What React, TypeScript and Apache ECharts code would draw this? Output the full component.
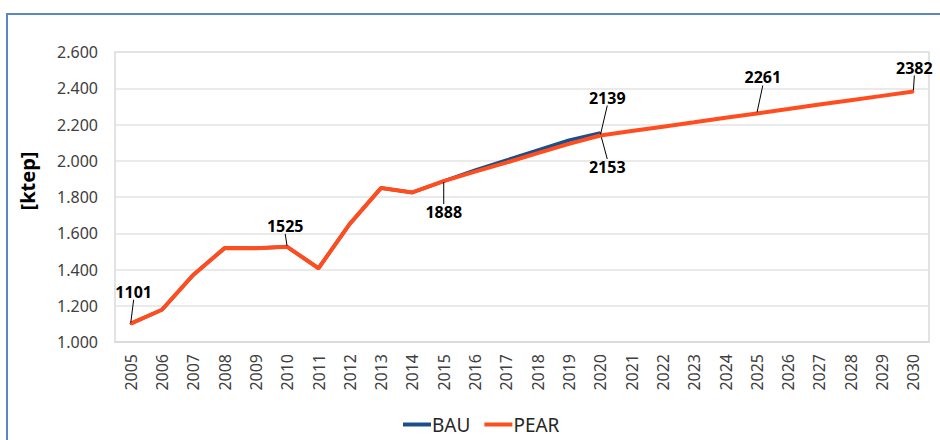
import React, { useEffect, useRef } from "react";
import * as echarts from "echarts";

const years = [
  "2005", "2006", "2007", "2008", "2009", "2010", "2011", "2012", "2013",
  "2014", "2015", "2016", "2017", "2018", "2019", "2020", "2021", "2022",
  "2023", "2024", "2025", "2026", "2027", "2028", "2029", "2030",
];

const bauValues: (number | null)[] = [
  1101, 1178, 1370, 1518, 1517, 1525, 1407, 1652, 1850, 1825, 1888,
  1948, 2003, 2058, 2113, 2153,
  null, null, null, null, null, null, null, null, null, null,
];

const pearValues: number[] = [
  1101, 1178, 1370, 1518, 1517, 1525, 1407, 1652, 1850, 1825, 1888,
  1940, 1990, 2042, 2093, 2139, 2164, 2188, 2212, 2237, 2261, 2285,
  2310, 2334, 2358, 2382,
];

const bauLabelIdx = [15];
const pearLabelIdx = [0, 5, 10, 15, 20, 25];

const yTicks = { min: 1000, max: 2600, interval: 200 };

const FONT = "Noto Sans";

// label offsets (style): seriesIndex-dataIndex -> [dx, dy] from point
const labelOffsets: Record<string, [number, number]> = {
  "1-0": [3, -32],
  "1-5": [-2, -21],
  "1-10": [0, 31],
  "1-15": [7, -38],
  "0-15": [7, 34],
  "1-20": [6, -36],
  "1-25": [1, -24],
};

const withLabels = (vals: (number | null)[], idx: number[]) =>
  vals.map((v, i) => (idx.includes(i) && v != null ? { value: v, label: { show: true } } : v));

export default function App() {
  const ref = useRef<HTMLDivElement>(null);
  useEffect(() => {
    if (!ref.current) return;
    const chart = echarts.init(ref.current, undefined, { renderer: "svg" });
    const labelCfg = {
      show: false,
      color: "#000",
      fontFamily: FONT,
      fontWeight: "bold",
      fontSize: 16,
      formatter: (p: any) => String(p.value),
    };
    chart.setOption({
      animation: false,
      backgroundColor: "#fff",
      textStyle: { fontFamily: FONT },
      graphic: [
        {
          type: "rect",
          shape: { x: 7, y: 14, width: 1000, height: 600 },
          style: { fill: "none", stroke: "#5b88c4", lineWidth: 2 },
          silent: true,
        },
        {
          type: "text",
          x: 27,
          y: 181,
          rotation: Math.PI / 2,
          style: {
            text: "[ktep]",
            fontFamily: FONT,
            fontWeight: "bold",
            fontSize: 20,
            fill: "#000",
            textAlign: "center",
            textVerticalAlign: "middle",
          },
        },
      ],
      grid: {
        left: 115,
        top: 52,
        right: 11,
        bottom: 98,
        show: true,
        borderColor: "#d9d9d9",
        borderWidth: 1.5,
      },
      legend: {
        left: 398,
        top: 410,
        itemGap: 14,
        itemWidth: 28,
        itemHeight: 4,
        icon: "rect",
        textStyle: { fontFamily: FONT, fontSize: 19, color: "#262626", padding: [0, 0, 0, -4] },
        data: ["BAU", "PEAR"],
      },
      xAxis: {
        type: "category",
        data: years,
        boundaryGap: true,
        axisTick: { show: false },
        axisLine: { show: true, lineStyle: { color: "#d9d9d9", width: 1.5 } },
        axisLabel: {
          rotate: 90,
          fontSize: 16,
          color: "#404040",
          fontFamily: FONT,
          margin: 12,
          interval: 0,
        },
      },
      yAxis: {
        type: "value",
        min: yTicks.min,
        max: yTicks.max,
        interval: yTicks.interval,
        axisLine: { show: false },
        axisTick: { show: false },
        splitLine: { lineStyle: { color: "#e3e3e3", width: 1.5 } },
        axisLabel: {
          fontSize: 16,
          color: "#404040",
          fontFamily: FONT,
          margin: 17,
          formatter: (v: number) =>
            Math.floor(v / 1000) + "." + String(v % 1000).padStart(3, "0"),
        },
      },
      labelLayout: (params: any) => {
        const o = labelOffsets[params.seriesIndex + "-" + params.dataIndex];
        if (!o) return {};
        const cx = params.rect.x + params.rect.width / 2;
        const cy = params.rect.y + params.rect.height / 2;
        return { x: cx + o[0], y: cy + o[1], align: "center", verticalAlign: "middle" };
      },
      series: [
        {
          name: "BAU",
          type: "line",
          data: withLabels(bauValues, bauLabelIdx),
          symbol: "circle",
          symbolSize: 2,
          showSymbol: true,
          color: "#1b4f8a",
          lineStyle: { color: "#1b4f8a", width: 3.5 },
          itemStyle: { color: "#1b4f8a" },
          label: labelCfg,
          labelLine: { show: true, lineStyle: { color: "#000", width: 1 } },
          z: 2,
        },
        {
          name: "PEAR",
          type: "line",
          data: withLabels(pearValues, pearLabelIdx),
          symbol: "circle",
          symbolSize: 2,
          showSymbol: true,
          color: "#ff4d1f",
          lineStyle: { color: "#ff4d1f", width: 4 },
          itemStyle: { color: "#ff4d1f" },
          label: labelCfg,
          labelLine: { show: true, lineStyle: { color: "#000", width: 1 } },
          z: 3,
        },
      ],
    });
    return () => chart.dispose();
  }, []);
  return (
    <div
      ref={ref}
      style={{ position: "absolute", left: 0, top: 0, width: 940, height: 440 }}
    />
  );
}
